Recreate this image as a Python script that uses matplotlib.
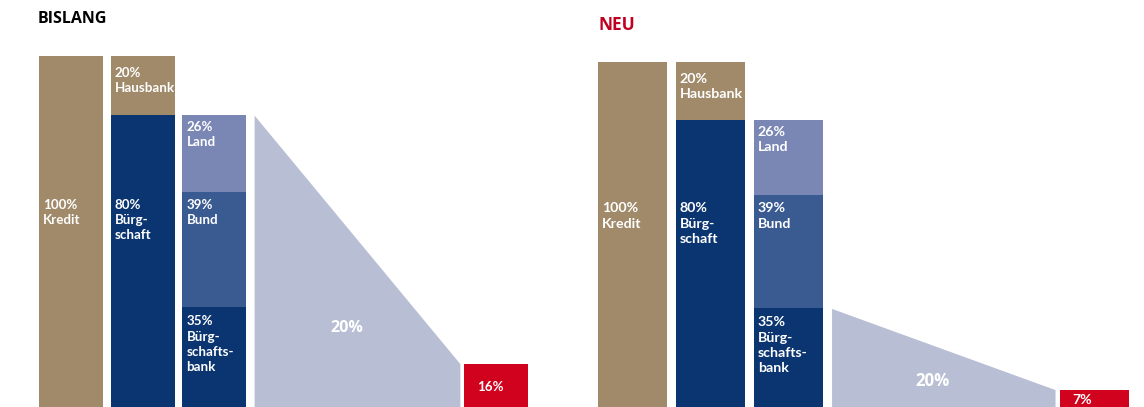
import matplotlib.pyplot as plt

plt.rcParams['font.family'] = ['Open Sans', 'DejaVu Sans']

# data
panels = ["BISLANG", "NEU"]
hausbank = [20, 20]
land = [26, 26]
bund = [39, 39]
buergschaftsbank = [35, 35]
wedge_from = [100, 35]      # share that carries the risk at the start of the wedge
wedge_label = ["20%", "20%"]
risiko = [16, 7]

kredit_label = "100%\nKredit"
hausbank_label = "20%\nHausbank"
buerg_label = "80%\nBürg-\nschaft"
land_label = "26%\nLand"
bund_label = "39%\nBund"
bb_label = "35%\nBürg-\nschafts-\nbank"

# colours
TAN = "#a08a6a"
NAVY = "#0b3571"
LAND = "#7a87b5"
BUND = "#3a5a92"
WEDGE = "#b8bed3"
RED = "#d0021e"

LABEL_FONT = ['Lato', 'DejaVu Sans']

W = 0.89
fig = plt.figure(figsize=(11.44, 4.07), dpi=100)

# axes placement (pixels of the 1144x407 canvas) and y-range per panel
boxes = [(39, 489), (598, 531)]
ylims = [(1.35, 138.9), (1.0, 141.4)]
fsizes = [9.6, 10.2]
title_pos = [(38, 19, "black", 11.5), (598, 25, "#c00020", 12.5)]

for i, name in enumerate(panels):
    x0, w = boxes[i]
    ax = fig.add_axes([x0 / 1144, 0, w / 1144, 1])
    ax.set_xlim(0, 6.82)
    ax.set_ylim(*ylims[i])
    ax.axis("off")
    fs = fsizes[i]

    sub = land[i] + bund[i] + buergschaftsbank[i]
    # bar 1: whole credit
    ax.bar(0, sub + hausbank[i], W, align="edge", color=TAN)
    # bar 2: hausbank + buergschaft
    ax.bar(1, sub, W, align="edge", color=NAVY)
    ax.bar(1, hausbank[i], W, bottom=sub, align="edge", color=TAN)
    # bar 3: split of the buergschaft
    ax.bar(2, buergschaftsbank[i], W, align="edge", color=NAVY)
    ax.bar(2, bund[i], W, bottom=buergschaftsbank[i], align="edge", color=BUND)
    ax.bar(2, land[i], W, bottom=buergschaftsbank[i] + bund[i], align="edge", color=LAND)
    # wedge and remaining risk
    ax.fill_between([3.0, 5.87], [wedge_from[i], risiko[i]], 0, color=WEDGE, lw=0)
    ax.bar(5.93, risiko[i], W, align="edge", color=RED)

    kw = dict(textcoords="offset pixels", ha="left", va="top", color="white",
              fontsize=fs, fontweight="bold", linespacing=1.32, family=LABEL_FONT)
    mid = buergschaftsbank[i] + bund[i]
    ax.annotate(kredit_label, (0, mid), xytext=(4, -7), **kw)
    ax.annotate(buerg_label, (1, mid), xytext=(4, -7), **kw)
    ax.annotate(bund_label, (2, mid), xytext=(4, -7), **kw)
    ax.annotate(hausbank_label, (1, sub + hausbank[i]), xytext=(4, -11), **kw)
    ax.annotate(land_label, (2, sub), xytext=(4, -6), **kw)
    ax.annotate(bb_label, (2, buergschaftsbank[i]), xytext=(4, -8), **kw)

    # wedge label
    xw = 3.0 + 0.45 * 2.87
    hw = wedge_from[i] + (risiko[i] - wedge_from[i]) * 0.45
    ax.text(xw, hw * 0.45, wedge_label[i], ha="center", va="center", color="white",
            fontsize=fs + 2, fontweight="bold")
    ax.annotate(f"{risiko[i]}%", (5.93, risiko[i] / 2), xytext=(13, 0),
                textcoords="offset pixels", ha="left", va="center", color="white",
                fontsize=fs, fontweight="bold", family=LABEL_FONT)

    tx, ty, tc, tfs = title_pos[i]
    fig.text(tx / 1144, 1 - ty / 407, name, ha="left", va="center", color=tc,
             fontsize=tfs, fontweight="bold")

fig.savefig("out.png", dpi=100)
